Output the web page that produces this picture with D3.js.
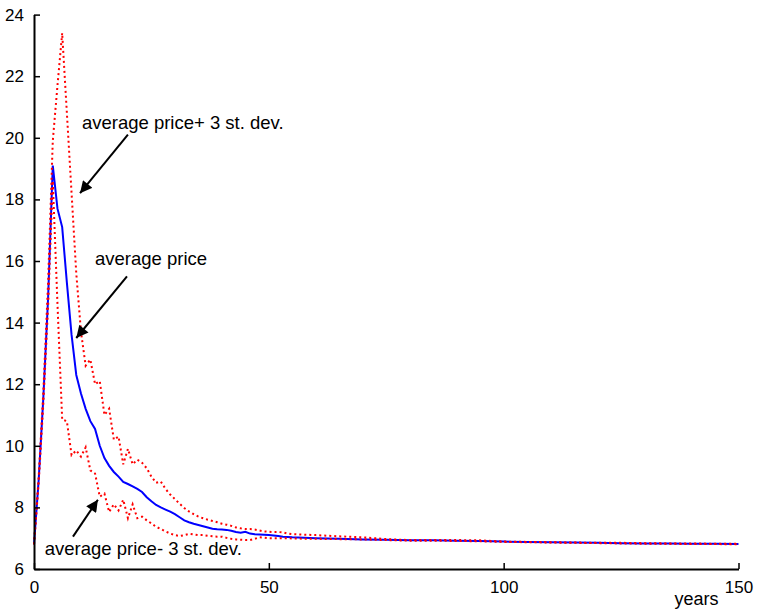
<!DOCTYPE html>
<html><head><meta charset="utf-8">
<script src="https://cdn.jsdelivr.net/npm/d3@7"></script>
<style>body{margin:0;background:#fff}svg{display:block}text{font-family:"Liberation Sans",Arial,sans-serif}</style>
</head><body><svg id="c" width="757" height="609"></svg>
<script>
const years = [0,1,2,3,4,5,6,7,8,9,10,11,12,13,14,15,16,17,18,19,20,21,22,23,24,25,26,27,28,29,30,31,32,33,34,35,36,37,38,39,40,41,42,43,44,45,46,47,48,49,50,51,52,53,54,55,60,65,70,75,80,85,90,95,100,105,110,115,120,125,130,135,140,145,150];
const avgPrice = [6.8,8.9,11.6,14.8,19.1,17.7,17.1,15.3,13.6,12.3,11.7,11.2,10.8,10.55,10.0,9.6,9.35,9.15,9.0,8.83,8.76,8.68,8.6,8.5,8.33,8.2,8.08,8.0,7.93,7.86,7.78,7.68,7.58,7.52,7.47,7.43,7.39,7.35,7.31,7.29,7.28,7.27,7.24,7.2,7.18,7.21,7.15,7.13,7.12,7.11,7.1,7.09,7.07,7.05,7.04,7.03,7.0,6.98,6.96,6.95,6.93,6.93,6.92,6.91,6.89,6.88,6.87,6.86,6.85,6.84,6.83,6.83,6.82,6.82,6.81];
const upperBand = [6.8,9.0,11.8,15.3,19.9,21.7,23.4,20.8,18.2,15.6,13.7,12.6,12.8,12.0,12.1,11.0,11.2,10.2,10.3,9.4,9.9,9.4,9.55,9.45,9.27,9.0,8.8,8.84,8.6,8.42,8.27,8.12,7.98,7.87,7.78,7.7,7.65,7.6,7.56,7.52,7.47,7.44,7.4,7.35,7.32,7.3,7.3,7.28,7.25,7.22,7.21,7.2,7.2,7.19,7.15,7.13,7.1,7.06,7.03,6.97,6.94,6.94,6.94,6.93,6.89,6.88,6.87,6.86,6.85,6.85,6.84,6.83,6.83,6.82,6.82];
const lowerBand = [6.8,8.8,11.4,14.5,18.6,14.6,10.85,10.8,9.7,9.85,9.65,9.95,9.2,9.1,8.35,8.45,7.85,8.1,7.9,8.25,7.65,8.1,7.65,7.7,7.58,7.48,7.37,7.3,7.22,7.15,7.1,7.07,7.1,7.14,7.12,7.1,7.1,7.08,7.06,7.05,7.05,7.01,6.98,6.96,6.95,6.94,6.94,6.98,7.03,7.02,7.0,7.0,7.0,7.0,7.0,6.99,6.98,6.97,6.96,6.94,6.92,6.92,6.91,6.9,6.88,6.87,6.86,6.85,6.84,6.83,6.82,6.82,6.81,6.81,6.8];
const xTicks = [0,50,100,150];
const yTicks = [6,8,10,12,14,16,18,20,22,24];
const xLabel = "years";
const notes = [
  {text:"average price+ 3 st. dev.", tx:10.2, ty:20.28, ax:20.0, ay:20.1, hx:9.8, hy:18.2},
  {text:"average price", tx:13.0, ty:15.88, ax:19.8, ay:15.5, hx:9.0, hy:13.5},
  {text:"average price- 3 st. dev.", tx:2.3, ty:6.45, ax:8.3, ay:7.05, hx:13.6, hy:8.25}
];

const svg = d3.select("#c");
const x = d3.scaleLinear().domain([0,150]).range([34,738.5]);
const y = d3.scaleLinear().domain([6,24]).range([569,14.6]);

svg.append("defs").append("marker").attr("id","ah").attr("viewBox","0 0 10 10")
  .attr("refX",10).attr("refY",5).attr("markerWidth",7).attr("markerHeight",6)
  .attr("markerUnits","strokeWidth").attr("orient","auto")
  .append("path").attr("d","M0,0 L10,5 L0,10 z").attr("fill","#000");

const line = arr => d3.line().x((d,i)=>x(years[i])).y((d,i)=>y(arr[i]))(arr);

svg.append("path").attr("d",line(avgPrice)).attr("fill","none").attr("stroke","#0000ff").attr("stroke-width",2);
[upperBand, lowerBand].forEach(arr=>{
  svg.append("path").attr("d",line(arr)).attr("fill","none").attr("stroke","#ff0000")
    .attr("stroke-width",2).attr("stroke-dasharray","2,3");
});

const xa = svg.append("g").attr("transform","translate(0,569)")
  .call(d3.axisBottom(x).tickValues(xTicks).tickSize(-6).tickPadding(14).tickSizeOuter(0));
const ya = svg.append("g").attr("transform","translate(34,0)")
  .call(d3.axisLeft(y).tickValues(yTicks).tickSize(-6).tickPadding(10).tickSizeOuter(0));
[xa,ya].forEach(g=>{
  g.select(".domain").attr("stroke","#000").attr("stroke-width",2);
  g.selectAll(".tick line").attr("stroke","#000").attr("stroke-width",1.5);
  g.selectAll(".tick text").attr("font-size",17).attr("fill","#000").attr("font-family","Liberation Sans, Arial, sans-serif");
});
xa.selectAll(".tick text").attr("dy","0.6em");

svg.append("text").attr("x",x(150)-20).attr("y",605).attr("text-anchor","end")
  .attr("font-size",18).text(xLabel);

notes.forEach(n=>{
  svg.append("text").attr("x",x(n.tx)).attr("y",y(n.ty)).attr("font-size",18.5).attr("fill","#000").text(n.text);
  svg.append("line").attr("x1",x(n.ax)).attr("y1",y(n.ay)).attr("x2",x(n.hx)).attr("y2",y(n.hy))
    .attr("stroke","#000").attr("stroke-width",2).attr("marker-end","url(#ah)");
});
</script></body></html>
